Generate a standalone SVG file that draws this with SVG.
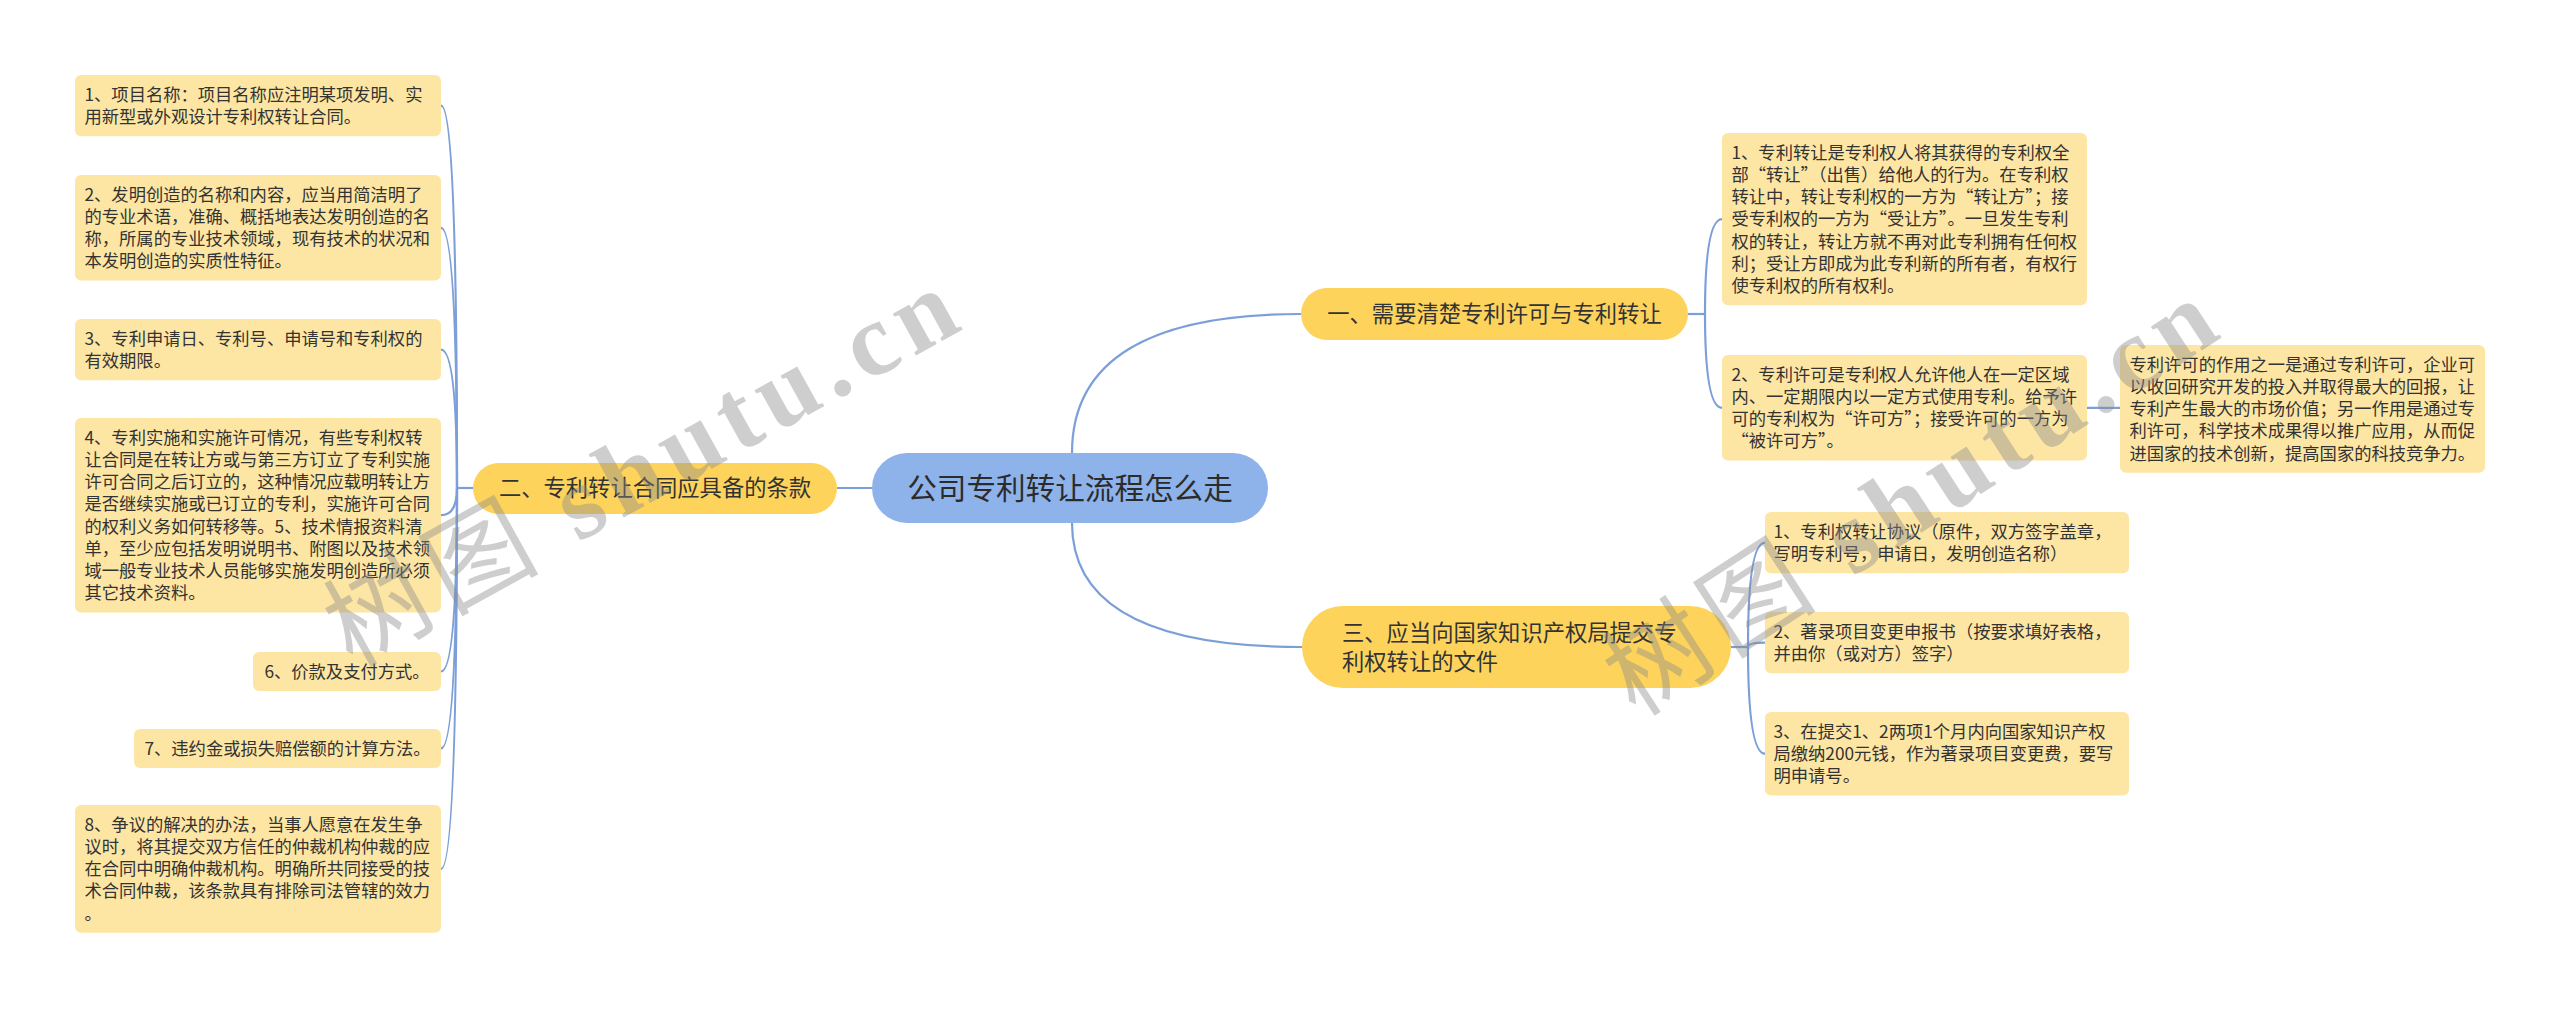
<svg xmlns="http://www.w3.org/2000/svg" width="2560" height="1010" viewBox="0 0 2560 1010">
<defs>
<style>
.bg{fill:#ffffff}
.leaf rect{fill:#FDE6A4}
.branch rect{fill:#FDD35C}
.root rect{fill:#8EB2EA}
text{font-family:"Noto Sans CJK SC","Microsoft YaHei",sans-serif;fill:#333333}
.lt{font-size:17.3px}
.bt{font-size:22.3px}
.rt{font-size:29.6px;fill:#2b2b2b}
.conn path{fill:none;stroke:#7C9FD9;stroke-width:2.2}
.wm{fill:#8a8a8a;fill-opacity:0.42;font-size:104px;letter-spacing:9px}
.wm .lat{font-family:"Liberation Serif",serif;font-weight:bold}
</style>
</defs>
<rect class="bg" x="0" y="0" width="2560" height="1010"/>

<g class="conn" id="connectors">
<path d="M872 488 L837 488"/>
<path d="M1072 453 Q1072 314 1301 314"/>
<path d="M1072 523 Q1072 647 1302 647"/>
<path d="M473 488 L457 488"/>
<path d="M457 488 Q457 105.6 441 105.6"/>
<path d="M457 488 Q457 227.8 441 227.8"/>
<path d="M457 488 Q457 349.6 441 349.6"/>
<path d="M457 488 Q457 515.2 441 515.2"/>
<path d="M457 488 Q457 671.5 441 671.5"/>
<path d="M457 488 Q457 748.5 441 748.5"/>
<path d="M457 488 Q457 868.9 441 868.9"/>
<path d="M1688 314 L1705 314"/>
<path d="M1705 314 Q1705 219.1 1722 219.1"/>
<path d="M1705 314 Q1705 407.8 1722 407.8"/>
<path d="M2087 407.8 L2120 407.8"/>
<path d="M1731 647 L1748 647"/>
<path d="M1748 647 Q1748 542.6 1765 542.6"/>
<path d="M1748 647 Q1748 642.6 1765 642.6"/>
<path d="M1748 647 Q1748 753.7 1765 753.7"/>
</g>

<g class="root" id="root">
<rect x="872" y="453" width="396" height="70" rx="35"/>
<text class="rt" x="1070" y="498.7" text-anchor="middle">公司专利转让流程怎么走</text>
</g>

<g class="branch" id="b2">
<rect x="473" y="463" width="364" height="51" rx="25.5"/>
<text class="bt" x="655" y="496" text-anchor="middle">二、专利转让合同应具备的条款</text>
</g>

<g class="branch" id="b1">
<rect x="1301" y="288" width="387" height="52" rx="26"/>
<text class="bt" x="1494.5" y="322" text-anchor="middle">一、需要清楚专利许可与专利转让</text>
</g>

<g class="branch" id="b3">
<rect x="1302" y="606" width="429" height="82" rx="41"/>
<text class="bt"><tspan x="1342" y="640.5">三、应当向国家知识产权局提交专</tspan><tspan x="1342" y="669.5">利权转让的文件</tspan></text>
</g>

<g class="leaf" id="l1">
<rect x="75" y="75" width="366" height="61.2" rx="6"/>
<text class="lt"><tspan x="84.5" y="100.8">1、项目名称：项目名称应注明某项发明、实</tspan><tspan x="84.5" y="123">用新型或外观设计专利权转让合同。</tspan></text>
</g>

<g class="leaf" id="l2">
<rect x="75" y="175" width="366" height="105.6" rx="6"/>
<text class="lt"><tspan x="84.5" y="200.8">2、发明创造的名称和内容，应当用简洁明了</tspan><tspan x="84.5" y="223">的专业术语，准确、概括地表达发明创造的名</tspan><tspan x="84.5" y="245.2">称，所属的专业技术领域，现有技术的状况和</tspan><tspan x="84.5" y="267.4">本发明创造的实质性特征。</tspan></text>
</g>

<g class="leaf" id="l3">
<rect x="75" y="319" width="366" height="61.2" rx="6"/>
<text class="lt"><tspan x="84.5" y="344.8">3、专利申请日、专利号、申请号和专利权的</tspan><tspan x="84.5" y="367">有效期限。</tspan></text>
</g>

<g class="leaf" id="l4">
<rect x="75" y="418" width="366" height="194.4" rx="6"/>
<text class="lt"><tspan x="84.5" y="443.8">4、专利实施和实施许可情况，有些专利权转</tspan><tspan x="84.5" y="466">让合同是在转让方或与第三方订立了专利实施</tspan><tspan x="84.5" y="488.2">许可合同之后订立的，这种情况应载明转让方</tspan><tspan x="84.5" y="510.4">是否继续实施或已订立的专利，实施许可合同</tspan><tspan x="84.5" y="532.6">的权利义务如何转移等。5、技术情报资料清</tspan><tspan x="84.5" y="554.8">单，至少应包括发明说明书、附图以及技术领</tspan><tspan x="84.5" y="577">域一般专业技术人员能够实施发明创造所必须</tspan><tspan x="84.5" y="599.2">其它技术资料。</tspan></text>
</g>

<g class="leaf" id="l6">
<rect x="253" y="652" width="188" height="39" rx="6"/>
<text class="lt" x="347" y="677.8" text-anchor="middle">6、价款及支付方式。</text>
</g>

<g class="leaf" id="l7">
<rect x="134" y="729" width="307" height="39" rx="6"/>
<text class="lt" x="287.5" y="754.8" text-anchor="middle">7、违约金或损失赔偿额的计算方法。</text>
</g>

<g class="leaf" id="l8">
<rect x="75" y="805" width="366" height="127.8" rx="6"/>
<text class="lt"><tspan x="84.5" y="830.8">8、争议的解决的办法，当事人愿意在发生争</tspan><tspan x="84.5" y="853">议时，将其提交双方信任的仲裁机构仲裁的应</tspan><tspan x="84.5" y="875.2">在合同中明确仲裁机构。明确所共同接受的技</tspan><tspan x="84.5" y="897.4">术合同仲裁，该条款具有排除司法管辖的效力</tspan><tspan x="84.5" y="919.6">。</tspan></text>
</g>

<g class="leaf" id="r11">
<rect x="1722" y="133" width="365" height="172.2" rx="6"/>
<text class="lt"><tspan x="1731.5" y="158.8">1、专利转让是专利权人将其获得的专利权全</tspan><tspan x="1731.5" y="181">部“转让”（出售）给他人的行为。在专利权</tspan><tspan x="1731.5" y="203.2">转让中，转让专利权的一方为“转让方”；接</tspan><tspan x="1731.5" y="225.4">受专利权的一方为“受让方”。一旦发生专利</tspan><tspan x="1731.5" y="247.6">权的转让，转让方就不再对此专利拥有任何权</tspan><tspan x="1731.5" y="269.8">利；受让方即成为此专利新的所有者，有权行</tspan><tspan x="1731.5" y="292">使专利权的所有权利。</tspan></text>
</g>

<g class="leaf" id="r12">
<rect x="1722" y="355" width="365" height="105.6" rx="6"/>
<text class="lt"><tspan x="1731.5" y="380.8">2、专利许可是专利权人允许他人在一定区域</tspan><tspan x="1731.5" y="403">内、一定期限内以一定方式使用专利。给予许</tspan><tspan x="1731.5" y="425.2">可的专利权为“许可方”；接受许可的一方为</tspan><tspan x="1731.5" y="447.4">“被许可方”。</tspan></text>
</g>

<g class="leaf" id="r121">
<rect x="2120" y="345" width="365" height="127.8" rx="6"/>
<text class="lt"><tspan x="2129.5" y="370.8">专利许可的作用之一是通过专利许可，企业可</tspan><tspan x="2129.5" y="393">以收回研究开发的投入并取得最大的回报，让</tspan><tspan x="2129.5" y="415.2">专利产生最大的市场价值；另一作用是通过专</tspan><tspan x="2129.5" y="437.4">利许可，科学技术成果得以推广应用，从而促</tspan><tspan x="2129.5" y="459.6">进国家的技术创新，提高国家的科技竞争力。</tspan></text>
</g>

<g class="leaf" id="r31">
<rect x="1765" y="512" width="364" height="61.2" rx="6"/>
<text class="lt"><tspan x="1773.5" y="537.8">1、专利权转让协议（原件，双方签字盖章，</tspan><tspan x="1773.5" y="560">写明专利号，申请日，发明创造名称）</tspan></text>
</g>

<g class="leaf" id="r32">
<rect x="1765" y="612" width="364" height="61.2" rx="6"/>
<text class="lt"><tspan x="1773.5" y="637.8">2、著录项目变更申报书（按要求填好表格，</tspan><tspan x="1773.5" y="660">并由你（或对方）签字）</tspan></text>
</g>

<g class="leaf" id="r33">
<rect x="1765" y="712" width="364" height="83.4" rx="6"/>
<text class="lt"><tspan x="1773.5" y="737.8">3、在提交1、2两项1个月内向国家知识产权</tspan><tspan x="1773.5" y="760">局缴纳200元钱，作为著录项目变更费，要写</tspan><tspan x="1773.5" y="782.2">明申请号。</tspan></text>
</g>

<g id="watermarks">
<text class="wm" x="352" y="668" transform="rotate(-29 352 668)">树图 <tspan class="lat">shutu.cn</tspan></text>
<text class="wm" x="1636" y="718" transform="rotate(-33 1636 718)">树图 <tspan class="lat">shutu.cn</tspan></text>
</g>
</svg>
